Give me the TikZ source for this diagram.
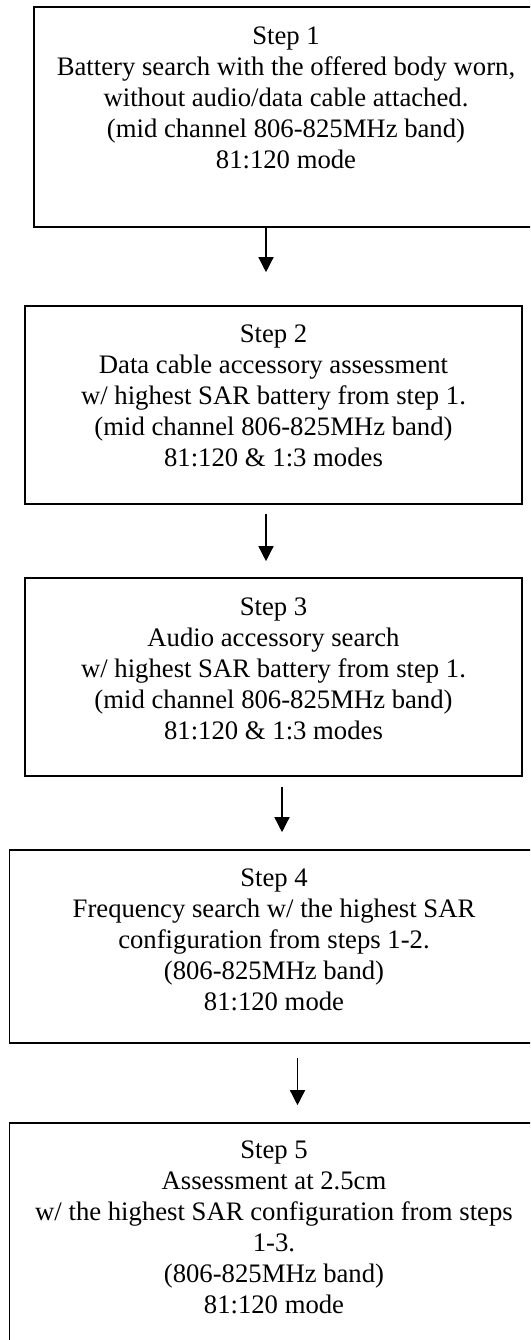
\documentclass[tikz,border=0pt]{standalone}
\usepackage{fontspec}
\setmainfont{Liberation Serif}
\usetikzlibrary{arrows.meta}

\tikzset{
  stepbox/.style={draw=black, line width=1.6pt, fill=none, inner sep=0pt},
  steptext/.style={align=center, inner sep=0pt, text=black, anchor=base,
    font=\fontsize{26.7}{31}\selectfont},
  flow/.style={line width=1.4pt, draw=black,
    -{Triangle[width=15pt,length=15pt]}}
}

\begin{document}
\begin{tikzpicture}[x=1pt, y=-1pt]
  \useasboundingbox (0,0) rectangle (530,1340);
  \clip (0,0) rectangle (530,1340);

  % process boxes
  \node[stepbox, minimum width=504pt, minimum height=220pt] (b1) at (286,117) {};
  \node[stepbox, minimum width=497pt, minimum height=198pt] (b2) at (273.5,405) {};
  \node[stepbox, minimum width=497pt, minimum height=198pt] (b3) at (273.5,677) {};
  \node[stepbox, minimum width=529pt, minimum height=193pt] (b4) at (274,946.5) {};
  \node[stepbox, minimum width=529pt, minimum height=230pt] (b5) at (274,1238) {};

  % box texts (placed by the baseline of their last line)
  \node[steptext] (t1) at (286,169) {Step 1\\Battery search with the offered body worn,\\without audio/data cable attached.\\(mid channel 806-825MHz band)\\81:120 mode};
  \node[steptext] (t2) at (273.5,466.5) {Step 2\\Data cable accessory assessment\\w/ highest SAR battery from step 1.\\(mid channel 806-825MHz band)\\81:120 \& 1:3 modes};
  \node[steptext] (t3) at (273.5,739.5) {Step 3\\Audio accessory search\\w/ highest SAR battery from step 1.\\(mid channel 806-825MHz band)\\81:120 \& 1:3 modes};
  \node[steptext] (t4) at (274,1010.5) {Step 4\\Frequency search w/ the highest SAR\\configuration from steps 1-2.\\(806-825MHz band)\\81:120 mode};
  \node[steptext] (t5) at (274,1313) {Step 5\\Assessment at 2.5cm\\w/ the highest SAR configuration from steps\\1-3.\\(806-825MHz band)\\81:120 mode};

  % connectors
  \draw[flow] ([xshift=-20pt]b1.south) -- ([xshift=-7.5pt,yshift=33pt]b2.north);
  \draw[flow] ([xshift=-7.5pt,yshift=-9pt]b2.south) -- ([xshift=-7.5pt,yshift=16pt]b3.north);
  \draw[flow] ([xshift=8.5pt,yshift=-10pt]b3.south) -- ([xshift=8pt,yshift=17pt]b4.north);
  \draw[flow] ([xshift=23.5pt,yshift=-14pt]b4.south) -- ([xshift=23.5pt,yshift=17pt]b5.north);
\end{tikzpicture}
\end{document}
